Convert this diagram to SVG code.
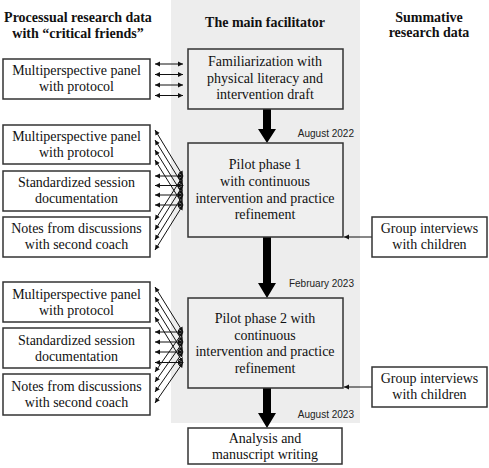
<svg xmlns="http://www.w3.org/2000/svg" width="489" height="468" viewBox="0 0 489 468">
<style>
.box{fill:#fff;stroke:#333;stroke-width:1.5}
.fbox{fill:#efefef;stroke:#333;stroke-width:1.5}
.t{font-family:"Liberation Serif","Times New Roman",serif;font-size:14px;fill:#111;text-anchor:middle}
.h{font-family:"Liberation Serif","Times New Roman",serif;font-size:14px;font-weight:bold;fill:#111;text-anchor:middle}
.d{font-family:"Liberation Sans",Arial,sans-serif;font-size:10px;fill:#222;text-anchor:end}
.c{stroke:#111;stroke-width:1;fill:none;marker-end:url(#ah)}
.c2{stroke:#111;stroke-width:1;fill:none;marker-start:url(#ah);marker-end:url(#ah)}
.big{fill:#000}
</style>
<defs>
<marker id="ah" markerUnits="userSpaceOnUse" markerWidth="6" markerHeight="6" refX="5" refY="2.5" orient="auto-start-reverse" viewBox="0 0 6 5">
<path d="M0,0 L5,2.5 L0,5 Z" fill="#111"/>
</marker>
</defs>
<rect x="171" y="0" width="189" height="423" fill="#ededed"/>
<g id="headings">
<text class="h" x="78" y="22">Processual research data</text>
<text class="h" x="78" y="38">with “critical friends”</text>
<text class="h" x="265" y="27">The main facilitator</text>
<text class="h" x="429" y="22">Summative</text>
<text class="h" x="429" y="37">research data</text>
</g>
<g id="connectors">
<line class="c2" x1="155" y1="64" x2="183" y2="64"/>
<line class="c2" x1="155" y1="74.5" x2="183" y2="74.5"/>
<line class="c2" x1="155" y1="85" x2="183" y2="85"/>
<line class="c2" x1="155" y1="95.5" x2="183" y2="95.5"/>
<line class="c2" x1="155" y1="130" x2="183" y2="176"/>
<line class="c2" x1="155" y1="140" x2="183" y2="185.5"/>
<line class="c2" x1="155" y1="150" x2="183" y2="195"/>
<line class="c2" x1="155" y1="160" x2="183" y2="205"/>
<line class="c2" x1="155" y1="176" x2="183" y2="176"/>
<line class="c2" x1="155" y1="185.5" x2="183" y2="185.5"/>
<line class="c2" x1="155" y1="195" x2="183" y2="195"/>
<line class="c2" x1="155" y1="205" x2="183" y2="205"/>
<line class="c2" x1="155" y1="220" x2="183" y2="176"/>
<line class="c2" x1="155" y1="230" x2="183" y2="185.5"/>
<line class="c2" x1="155" y1="240" x2="183" y2="195"/>
<line class="c2" x1="155" y1="250" x2="183" y2="205"/>
<line class="c2" x1="155" y1="287" x2="183" y2="332"/>
<line class="c2" x1="155" y1="297" x2="183" y2="342"/>
<line class="c2" x1="155" y1="307" x2="183" y2="352"/>
<line class="c2" x1="155" y1="317" x2="183" y2="362.5"/>
<line class="c2" x1="155" y1="332" x2="183" y2="332"/>
<line class="c2" x1="155" y1="342" x2="183" y2="342"/>
<line class="c2" x1="155" y1="352" x2="183" y2="352"/>
<line class="c2" x1="155" y1="362.5" x2="183" y2="362.5"/>
<line class="c2" x1="155" y1="372" x2="183" y2="332"/>
<line class="c2" x1="155" y1="382" x2="183" y2="342"/>
<line class="c2" x1="155" y1="392" x2="183" y2="352"/>
<line class="c2" x1="155" y1="403" x2="183" y2="362.5"/>
<line class="c" x1="372" y1="237" x2="344" y2="237"/>
<line class="c" x1="372" y1="387" x2="344" y2="387"/>
<path class="big" d="M263,109 H271 V129 H276 L267,143 L258,129 H263 Z"/>
<path class="big" d="M263,237 H271 V283 H276 L267,298 L258,283 H263 Z"/>
<path class="big" d="M263,388 H271 V413 H276 L267,428 L258,413 H263 Z"/>
</g>
<g id="dates">
<text class="d" x="354" y="137">August 2022</text>
<text class="d" x="354" y="287">February 2023</text>
<text class="d" x="354" y="418">August 2023</text>
</g>
<g id="n-panel0">
<rect class="box" x="3" y="59" width="147" height="40"/>
<text class="t" x="76.5" y="75">Multiperspective panel</text>
<text class="t" x="76.5" y="91">with protocol</text>
</g>
<g id="n-familiarization">
<rect class="fbox" x="188" y="49" width="155" height="60"/>
<text class="t" x="265" y="66">Familiarization with</text>
<text class="t" x="265" y="82.5">physical literacy and</text>
<text class="t" x="265" y="99">intervention draft</text>
</g>
<g id="n-panel1">
<rect class="box" x="3" y="125" width="147" height="39"/>
<text class="t" x="76.5" y="141">Multiperspective panel</text>
<text class="t" x="76.5" y="157">with protocol</text>
</g>
<g id="n-doc1">
<rect class="box" x="3" y="171" width="147" height="40"/>
<text class="t" x="76.5" y="187">Standardized session</text>
<text class="t" x="76.5" y="203">documentation</text>
</g>
<g id="n-notes1">
<rect class="box" x="3" y="217" width="147" height="40"/>
<text class="t" x="76.5" y="233">Notes from discussions</text>
<text class="t" x="76.5" y="249">with second coach</text>
</g>
<g id="n-pilot1">
<rect class="fbox" x="188" y="143" width="155" height="94"/>
<text class="t" x="265" y="169">Pilot phase 1</text>
<text class="t" x="265" y="185.5">with continuous</text>
<text class="t" x="265" y="202.5">intervention and practice</text>
<text class="t" x="265" y="219">refinement</text>
</g>
<g id="n-interviews1">
<rect class="box" x="372" y="217" width="115" height="40"/>
<text class="t" x="429.5" y="233">Group interviews</text>
<text class="t" x="429.5" y="249">with children</text>
</g>
<g id="n-panel2">
<rect class="box" x="3" y="282" width="147" height="40"/>
<text class="t" x="76.5" y="298.5">Multiperspective panel</text>
<text class="t" x="76.5" y="314.5">with protocol</text>
</g>
<g id="n-doc2">
<rect class="box" x="3" y="328" width="147" height="40"/>
<text class="t" x="76.5" y="344.5">Standardized session</text>
<text class="t" x="76.5" y="360.5">documentation</text>
</g>
<g id="n-notes2">
<rect class="box" x="3" y="374" width="147" height="41"/>
<text class="t" x="76.5" y="391">Notes from discussions</text>
<text class="t" x="76.5" y="407">with second coach</text>
</g>
<g id="n-pilot2">
<rect class="fbox" x="188" y="298" width="155" height="90"/>
<text class="t" x="265" y="323">Pilot phase 2 with</text>
<text class="t" x="265" y="339.5">continuous</text>
<text class="t" x="265" y="356">intervention and practice</text>
<text class="t" x="265" y="372.5">refinement</text>
</g>
<g id="n-interviews2">
<rect class="box" x="372" y="367" width="115" height="40"/>
<text class="t" x="429.5" y="383">Group interviews</text>
<text class="t" x="429.5" y="399">with children</text>
</g>
<g id="n-analysis">
<rect class="box" x="188" y="428" width="154" height="36"/>
<text class="t" x="265" y="443">Analysis and</text>
<text class="t" x="265" y="459">manuscript writing</text>
</g>
</svg>
